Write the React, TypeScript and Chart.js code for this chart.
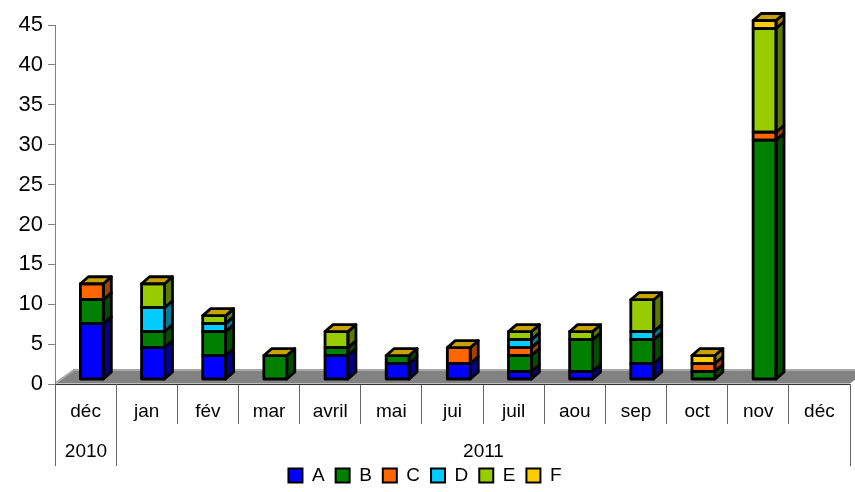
import React, { useEffect, useRef } from 'react';
import { Chart, registerables } from 'chart.js';

Chart.register(...registerables);

// Category axis: months, grouped by year underneath
const months = ['déc', 'jan', 'fév', 'mar', 'avril', 'mai', 'jui', 'juil', 'aou', 'sep', 'oct', 'nov', 'déc'];
const years = ['2010', '2011'];
const yearFirstMonth = [0, 1];
const yearLastMonth = [0, 12];

// Stacked series
const seriesNames = ['A', 'B', 'C', 'D', 'E', 'F'];
const valuesA = [7, 4, 3, 0, 3, 2, 2, 1, 1, 2, 0, 0, 0];
const valuesB = [3, 2, 3, 3, 1, 1, 0, 2, 4, 3, 1, 30, 0];
const valuesC = [2, 0, 0, 0, 0, 0, 2, 1, 0, 0, 1, 1, 0];
const valuesD = [0, 3, 1, 0, 0, 0, 0, 1, 0, 1, 0, 0, 0];
const valuesE = [0, 3, 1, 0, 2, 0, 0, 1, 1, 4, 0, 13, 0];
const valuesF = [0, 0, 0, 0, 0, 0, 0, 0, 0, 0, 1, 1, 0];
const seriesValues = [valuesA, valuesB, valuesC, valuesD, valuesE, valuesF];

// Y axis range
const yMin = 0;
const yMax = 45;
const yStep = 5;

// Colours: front faces, darker side faces, top face of each stack
const FRONT = ['#0000ff', '#008000', '#ff6600', '#00ccff', '#99cc00', '#ffcc00'];
const SIDE = ['#00008c', '#004d00', '#a34100', '#007a99', '#5c7a00', '#a38200'];
const TOP = '#c9a200';

// Pseudo-3D geometry
const BAR_DX = 8;
const BAR_DY = 7;
const SHIFT_X = 6.3;
const SHIFT_Y = 4.5;
const FLOOR_DX = 19;
const FLOOR_DY = 14.5;
const LEGEND_DROP = 3;

const FONT = "'Liberation Sans', Arial, sans-serif";

const bar3d = {
  id: 'bar3d',
  afterLayout(chart: any) {
    // sit the legend a little closer to the bottom edge
    const lg = chart.legend;
    if (lg) {
      lg.top += LEGEND_DROP;
      lg.bottom += LEGEND_DROP;
    }
  },
  beforeDatasetsDraw(chart: any) {
    const { ctx, chartArea: a } = chart;
    ctx.save();
    const y0 = a.bottom - 0.5;
    ctx.beginPath();
    ctx.moveTo(a.left, y0);
    ctx.lineTo(a.right, y0);
    ctx.lineTo(a.right + FLOOR_DX, y0 - FLOOR_DY);
    ctx.lineTo(a.left + FLOOR_DX, y0 - FLOOR_DY);
    ctx.closePath();
    ctx.fillStyle = '#828282';
    ctx.fill();
    // lighter rim along the back and left edges of the floor
    ctx.beginPath();
    ctx.moveTo(a.left + 1.5, y0 - 1);
    ctx.lineTo(a.left + FLOOR_DX, y0 - FLOOR_DY + 1);
    ctx.lineTo(a.right + FLOOR_DX, y0 - FLOOR_DY + 1);
    ctx.strokeStyle = '#a8a8a8';
    ctx.lineWidth = 2;
    ctx.stroke();
    ctx.restore();

    ctx.save();
    ctx.translate(SHIFT_X, -SHIFT_Y);
  },
  afterDatasetsDraw(chart: any) {
    const { ctx } = chart;
    const n = chart.data.labels.length;
    ctx.lineWidth = 2.8;
    ctx.strokeStyle = '#000';
    ctx.lineJoin = 'round';
    for (let j = 0; j < n; j++) {
      let topY: number | null = null;
      let L = 0;
      let R = 0;
      chart.data.datasets.forEach((ds: any, i: number) => {
        const v = ds.data[j];
        if (!v) return;
        const el = chart.getDatasetMeta(i).data[j];
        const { x, y, base, width } = el.getProps(['x', 'y', 'base', 'width'], true);
        const l = x - width / 2;
        const r = x + width / 2;
        const t = Math.min(y, base);
        const b = Math.max(y, base);
        ctx.beginPath();
        ctx.moveTo(r, t);
        ctx.lineTo(r + BAR_DX, t - BAR_DY);
        ctx.lineTo(r + BAR_DX, b - BAR_DY);
        ctx.lineTo(r, b);
        ctx.closePath();
        ctx.fillStyle = SIDE[i];
        ctx.fill();
        ctx.stroke();
        ctx.strokeRect(l, t, r - l, b - t);
        if (topY === null || t < topY) {
          topY = t;
          L = l;
          R = r;
        }
      });
      if (topY !== null) {
        ctx.beginPath();
        ctx.moveTo(L, topY);
        ctx.lineTo(L + BAR_DX, topY - BAR_DY);
        ctx.lineTo(R + BAR_DX, topY - BAR_DY);
        ctx.lineTo(R, topY);
        ctx.closePath();
        ctx.fillStyle = TOP;
        ctx.fill();
        ctx.stroke();
      }
    }
    ctx.restore();
  },
  afterDraw(chart: any) {
    const { ctx, chartArea: a } = chart;
    const xs = chart.scales.x;
    const half = (xs.getPixelForValue(1) - xs.getPixelForValue(0)) / 2;
    ctx.save();
    ctx.strokeStyle = '#666';
    ctx.lineWidth = 1;
    ctx.fillStyle = '#000';
    ctx.font = `19px ${FONT}`;
    ctx.textAlign = 'center';
    ctx.textBaseline = 'middle';
    years.forEach((label, k) => {
      const l = Math.round(xs.getPixelForValue(yearFirstMonth[k]) - half) + 0.5;
      const r = Math.round(xs.getPixelForValue(yearLastMonth[k]) + half) + 0.5;
      ctx.beginPath();
      ctx.moveTo(l, a.bottom);
      ctx.lineTo(l, a.bottom + 82);
      ctx.moveTo(r, a.bottom);
      ctx.lineTo(r, a.bottom + 82);
      ctx.stroke();
      ctx.fillText(label, (l + r) / 2, a.bottom + 68);
    });
    ctx.restore();
  },
};

export default function App() {
  const canvasRef = useRef<HTMLCanvasElement | null>(null);

  useEffect(() => {
    document.body.style.margin = '0';
    const canvas = canvasRef.current;
    if (!canvas) return;
    const chart = new Chart(canvas, {
      type: 'bar',
      data: {
        labels: months,
        datasets: seriesNames.map((name, i) => ({
          label: name,
          data: seriesValues[i],
          backgroundColor: FRONT[i],
          borderColor: '#000',
          borderWidth: 0,
          clip: false as any,
        })),
      },
      options: {
        responsive: false,
        animation: false,
        events: [],
        layout: { padding: { top: 25, right: 5, left: 0, bottom: 0 } },
        datasets: { bar: { categoryPercentage: 1, barPercentage: 0.375 } },
        scales: {
          x: {
            stacked: true,
            offset: true,
            grid: { offset: true, drawOnChartArea: false, tickLength: 40, color: '#666', lineWidth: 1 },
            border: { color: '#333', width: 1 },
            ticks: { padding: -24, color: '#000', font: { family: FONT, size: 19 }, maxRotation: 0, autoSkip: false },
            afterFit: (s: any) => {
              s.height = 68;
            },
          },
          y: {
            stacked: true,
            min: yMin,
            max: yMax,
            ticks: { stepSize: yStep, padding: 5, color: '#000', font: { family: FONT, size: 22 } },
            grid: { drawOnChartArea: false, tickLength: 7, color: '#808080' },
            border: { color: '#808080', width: 1 },
            afterFit: (s: any) => {
              s.width = 55;
            },
          },
        },
        plugins: {
          tooltip: { enabled: false },
          legend: {
            position: 'bottom',
            labels: {
              color: '#000',
              font: { family: FONT, size: 19 },
              boxWidth: 14,
              boxHeight: 14,
              padding: 11,
              generateLabels: (c: any) =>
                Chart.defaults.plugins.legend.labels.generateLabels(c).map((item: any) => ({
                  ...item,
                  lineWidth: 2,
                  strokeStyle: '#000',
                })),
            },
          },
        },
      },
      plugins: [bar3d],
    });
    return () => chart.destroy();
  }, []);

  return (
    <div style={{ position: 'absolute', left: 0, top: 0, width: 855, height: 492 }}>
      <canvas ref={canvasRef} width={855} height={492} />
    </div>
  );
}
